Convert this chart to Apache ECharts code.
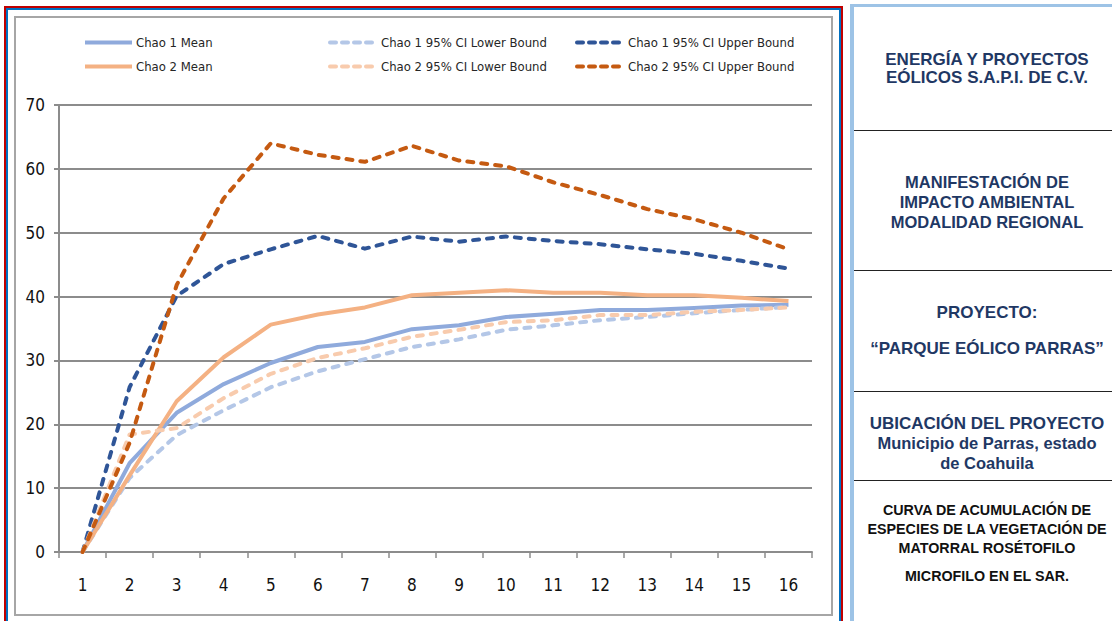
<!DOCTYPE html>
<html>
<head>
<meta charset="utf-8">
<script src="https://cdn.jsdelivr.net/npm/echarts@6/dist/echarts.min.js"></script>
<style>
  html, body { margin: 0; padding: 0; background: #fff; width: 1112px; height: 621px; overflow: hidden; position: relative; }
  .frame-red { position: absolute; left: 4px; top: 6px; width: 839px; height: 640px; border: 2px solid #C00000; box-sizing: border-box; }
  .frame-blue { position: absolute; left: 6px; top: 8px; width: 835px; height: 640px; border: 2px solid #0070C0; box-sizing: border-box; }
  .frame-gray { position: absolute; left: 14px; top: 16px; width: 819px; height: 600px; border: 2px solid #A6A6A6; box-sizing: border-box; background: #fff; }
  #chart { position: absolute; left: 0; top: 0; width: 845px; height: 621px; }
  .panel { position: absolute; left: 850px; top: 4px; width: 270px; height: 640px; border-left: 4px solid #9DC3E6; border-top: 3px solid #9DC3E6; box-sizing: border-box; font-family: "Liberation Sans", Arial, sans-serif; font-weight: bold; color: #1F3864; }
  .sec { position: absolute; left: 0; width: 266px; text-align: center; white-space: nowrap; }
  .rule { position: absolute; left: 0; width: 266px; height: 0; border-top: 1.5px solid #222; }
</style>
</head>
<body>
<div class="frame-red"></div>
<div class="frame-blue"></div>
<div class="frame-gray"></div>
<div id="chart"></div>

<div class="panel">
  <div class="sec" style="top:44px; font-size:17px; line-height:18px;">ENERGÍA Y PROYECTOS<br>EÓLICOS S.A.P.I. DE C.V.</div>
  <div class="rule" style="top:123px;"></div>
  <div class="sec" style="top:165px; font-size:16.5px; line-height:20px;">MANIFESTACIÓN DE<br>IMPACTO AMBIENTAL<br>MODALIDAD REGIONAL</div>
  <div class="rule" style="top:263px;"></div>
  <div class="sec" style="top:297px; font-size:17px; line-height:18px;">PROYECTO:</div>
  <div class="sec" style="top:333px; font-size:17px; line-height:18px;">“PARQUE EÓLICO PARRAS”</div>
  <div class="rule" style="top:384px;"></div>
  <div class="sec" style="top:407px; font-size:17px; line-height:20px;">UBICACIÓN DEL PROYECTO</div>
  <div class="sec" style="top:426px; font-size:16.5px; line-height:20px;">Municipio de Parras, estado<br>de Coahuila</div>
  <div class="rule" style="top:473px;"></div>
  <div class="sec" style="top:493.5px; font-size:14.3px; line-height:19px; color:#111;">CURVA DE ACUMULACIÓN DE<br>ESPECIES DE LA VEGETACIÓN DE<br>MATORRAL ROSÉTOFILO</div>
  <div class="sec" style="top:559.5px; font-size:14.3px; line-height:19px; color:#111;">MICROFILO EN EL SAR.</div>
</div>

<script>
// Sampling units (number of plots)
const samples = ['1','2','3','4','5','6','7','8','9','10','11','12','13','14','15','16'];

// Species richness estimators per sample count
const chao1Mean  = [0, 13.9, 21.8, 26.3, 29.6, 32.1, 32.9, 34.9, 35.5, 36.8, 37.3, 37.9, 37.9, 38.2, 38.6, 38.7];
const chao1Lower = [0, 11.6, 18.3, 22.2, 25.8, 28.3, 30.2, 32.1, 33.3, 34.8, 35.5, 36.3, 36.8, 37.4, 37.9, 38.4];
const chao1Upper = [0, 25.8, 40.1, 45.1, 47.4, 49.5, 47.5, 49.4, 48.6, 49.4, 48.7, 48.2, 47.4, 46.7, 45.6, 44.4];
const chao2Mean  = [0, 12.0, 23.6, 30.5, 35.6, 37.2, 38.3, 40.2, 40.6, 41.0, 40.6, 40.6, 40.2, 40.2, 39.8, 39.3];
const chao2Lower = [0, 18.4, 19.4, 24.1, 27.9, 30.4, 31.9, 33.7, 34.8, 36.0, 36.3, 37.1, 37.1, 37.6, 37.9, 38.3];
const chao2Upper = [0, 17.1, 41.8, 55.4, 64.0, 62.2, 61.1, 63.6, 61.3, 60.4, 57.9, 55.9, 53.7, 52.1, 50.0, 47.4];

const yTicks = { min: 0, max: 70, interval: 10 };

const FONT = '"DejaVu Sans Condensed", "Liberation Sans Narrow", "Open Sans", sans-serif';

const seriesDefs = [
  { name: 'Chao 1 Mean', data: chao1Mean, color: '#8FAADC', dashed: false },
  { name: 'Chao 1 95% CI Lower Bound', data: chao1Lower, color: '#B4C7E7', dashed: true },
  { name: 'Chao 1 95% CI Upper Bound', data: chao1Upper, color: '#2F5597', dashed: true },
  { name: 'Chao 2 Mean', data: chao2Mean, color: '#F4B183', dashed: false },
  { name: 'Chao 2 95% CI Lower Bound', data: chao2Lower, color: '#F8CBAD', dashed: true },
  { name: 'Chao 2 95% CI Upper Bound', data: chao2Upper, color: '#C55A11', dashed: true }
];

// Legend grid: 3 columns x 2 rows
const legendCols = [83, 328, 575];
const legendRows = [36, 60];

const chart = echarts.init(document.getElementById('chart'), null, { renderer: 'svg' });

chart.setOption({
  backgroundColor: 'transparent',
  animation: false,
  legend: seriesDefs.map((s, i) => ({
    data: [s.name],
    left: legendCols[i % 3],
    top: legendRows[Math.floor(i / 3)],
    padding: 0,
    itemWidth: 47,
    itemHeight: 14,
    itemGap: 4,
    selectedMode: false,
    itemStyle: { opacity: 0 },
    lineStyle: { width: 4, type: s.dashed ? [6, 6] : 'solid', cap: s.dashed ? 'round' : 'butt' },
    textStyle: { fontFamily: FONT, fontSize: 13, color: '#262626', padding: [0, 0, 0, -1] }
  })),
  grid: { left: 59, right: 33, top: 105, bottom: 69, containLabel: false },
  xAxis: {
    type: 'category',
    data: samples,
    boundaryGap: true,
    axisLine: { lineStyle: { color: '#8C8C8C', width: 2 } },
    axisTick: { show: true, length: 6, lineStyle: { color: '#8C8C8C', width: 1.5 } },
    axisLabel: { fontFamily: FONT, fontSize: 17, color: '#111', margin: 24 },
    splitLine: { show: false }
  },
  yAxis: {
    type: 'value',
    min: yTicks.min,
    max: yTicks.max,
    interval: yTicks.interval,
    axisLine: { show: true, lineStyle: { color: '#8C8C8C', width: 2 } },
    axisTick: { show: true, length: 5, lineStyle: { color: '#8C8C8C', width: 2 } },
    axisLabel: { fontFamily: FONT, fontSize: 17, color: '#111', margin: 14 },
    splitLine: { show: true, lineStyle: { color: '#8C8C8C', width: 2 } }
  },
  series: seriesDefs.map(s => ({
    name: s.name,
    type: 'line',
    data: s.data,
    symbol: 'none',
    showSymbol: false,
    smooth: false,
    color: s.color,
    lineStyle: {
      color: s.color,
      width: 4,
      type: s.dashed ? [6, 8] : 'solid',
      cap: s.dashed ? 'round' : 'butt',
      join: 'round'
    },
    itemStyle: { color: s.color }
  }))
});
</script>
</body>
</html>
